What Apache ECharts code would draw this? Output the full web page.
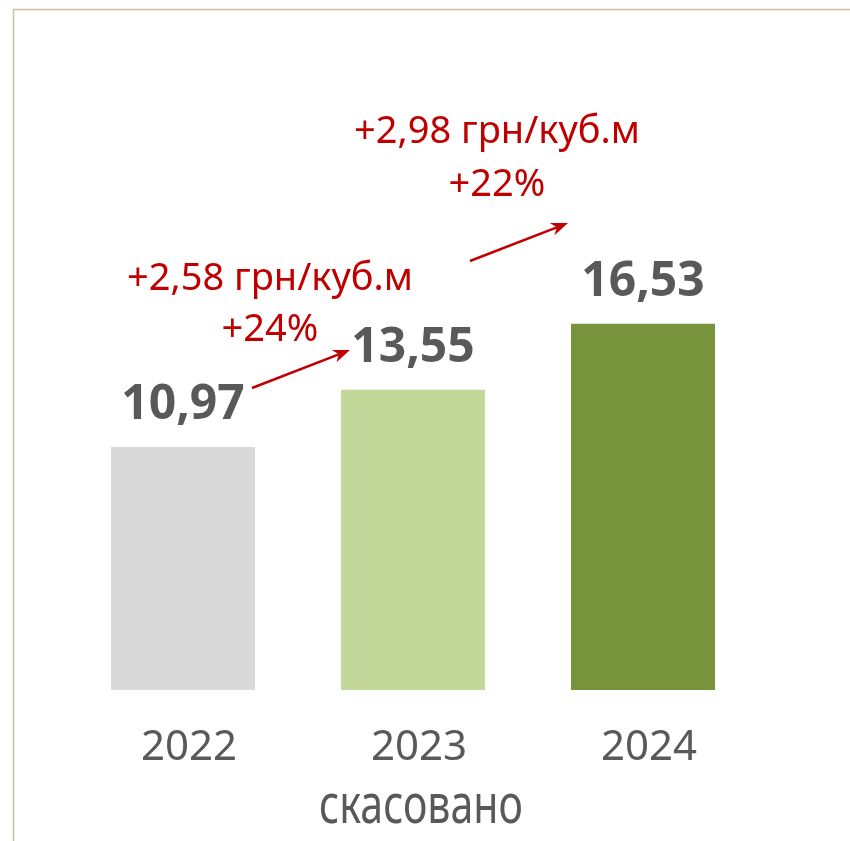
<!DOCTYPE html>
<html>
<head>
<meta charset="utf-8">
<script src="https://cdn.jsdelivr.net/npm/echarts@6/dist/echarts.min.js"></script>
<style>
    html, body { margin: 0; padding: 0; background: #fff; }
    #chart { width: 850px; height: 841px; }
</style>
</head>
<body>
<div id="chart"></div>
<script>
var years = ['2022', '2023', '2024'];
var prices = [10.97, 13.55, 16.53];
var barColors = ['#D9D9D9', '#C4D79B', '#77933C'];
var yearNote = 'скасовано';
var growthAbs = ['+2,58 грн/куб.м', '+2,98 грн/куб.м'];
var growthPct = ['+24%', '+22%'];

var RED = '#C00000';
var GREY = '#595959';

function fmt(v) {
    return v.toFixed(2).replace('.', ',');
}

function arrow(x1, y1, x2, y2) {
    var dx = x2 - x1, dy = y2 - y1;
    var len = Math.sqrt(dx * dx + dy * dy);
    var ux = dx / len, uy = dy / len;
    var hl = 17, hw = 6.5, notch = 12;
    var bx = x2 - ux * hl, by = y2 - uy * hl;
    var nx = x2 - ux * notch, ny = y2 - uy * notch;
    return [
        {
            type: 'line',
            shape: { x1: x1, y1: y1, x2: nx, y2: ny },
            style: { stroke: RED, lineWidth: 2.5 }
        },
        {
            type: 'polygon',
            shape: { points: [[x2, y2], [bx - uy * hw, by + ux * hw], [nx, ny], [bx + uy * hw, by - ux * hw]] },
            style: { fill: RED }
        }
    ];
}

var chart = echarts.init(document.getElementById('chart'));

var option = {
    backgroundColor: '#fff',
    animation: false,
    grid: { left: 68, right: 92, top: 247, bottom: 151 },
    xAxis: {
        type: 'category',
        data: years,
        axisLine: { show: false },
        axisTick: { show: false },
        axisLabel: {
            margin: 37,
            padding: [0, 0, 0, 12],
            color: GREY,
            fontFamily: 'Noto Sans',
            fontSize: 42
        }
    },
    yAxis: {
        type: 'value',
        min: 0,
        max: 20,
        show: false,
        splitLine: { show: false }
    },
    series: [{
        type: 'bar',
        barWidth: 144,
        data: prices.map(function(v, i) {
            return { value: v, itemStyle: { color: barColors[i] } };
        }),
        label: {
            show: true,
            position: 'top',
            distance: 18,
            color: GREY,
            fontFamily: 'Noto Sans',
            fontWeight: 'bold',
            fontSize: 48,
            formatter: function(p) { return fmt(p.value); }
        }
    }]
};

chart.setOption(option);

// annotations positioned next to the bars
var x2023 = chart.convertToPixel({ xAxisIndex: 0 }, years[1]);

var graphics = [
    {
        type: 'polyline',
        shape: { points: [[13.5, 841], [13.5, 9.5], [850, 9.5]] },
        style: { stroke: '#C6BEA0', lineWidth: 1.5, fill: null }
    },
    {
        type: 'text',
        x: x2023 + 8,
        y: 808,
        scaleX: 0.76,
        style: {
            text: yearNote, fill: GREY, fontFamily: 'Noto Sans', fontSize: 54,
            align: 'center', verticalAlign: 'middle'
        }
    },
    {
        type: 'text', x: 270, y: 279,
        style: { text: growthAbs[0], fill: RED, fontFamily: 'Noto Sans', fontSize: 38, align: 'center', verticalAlign: 'middle' }
    },
    {
        type: 'text', x: 270, y: 330,
        style: { text: growthPct[0], fill: RED, fontFamily: 'Noto Sans', fontSize: 38, align: 'center', verticalAlign: 'middle' }
    },
    {
        type: 'text', x: 497, y: 132,
        style: { text: growthAbs[1], fill: RED, fontFamily: 'Noto Sans', fontSize: 38, align: 'center', verticalAlign: 'middle' }
    },
    {
        type: 'text', x: 497, y: 185,
        style: { text: growthPct[1], fill: RED, fontFamily: 'Noto Sans', fontSize: 38, align: 'center', verticalAlign: 'middle' }
    }
];

graphics = graphics.concat(arrow(252, 388, 350, 350), arrow(470, 261, 568, 223));

chart.setOption({ graphic: graphics });
</script>
</body>
</html>
